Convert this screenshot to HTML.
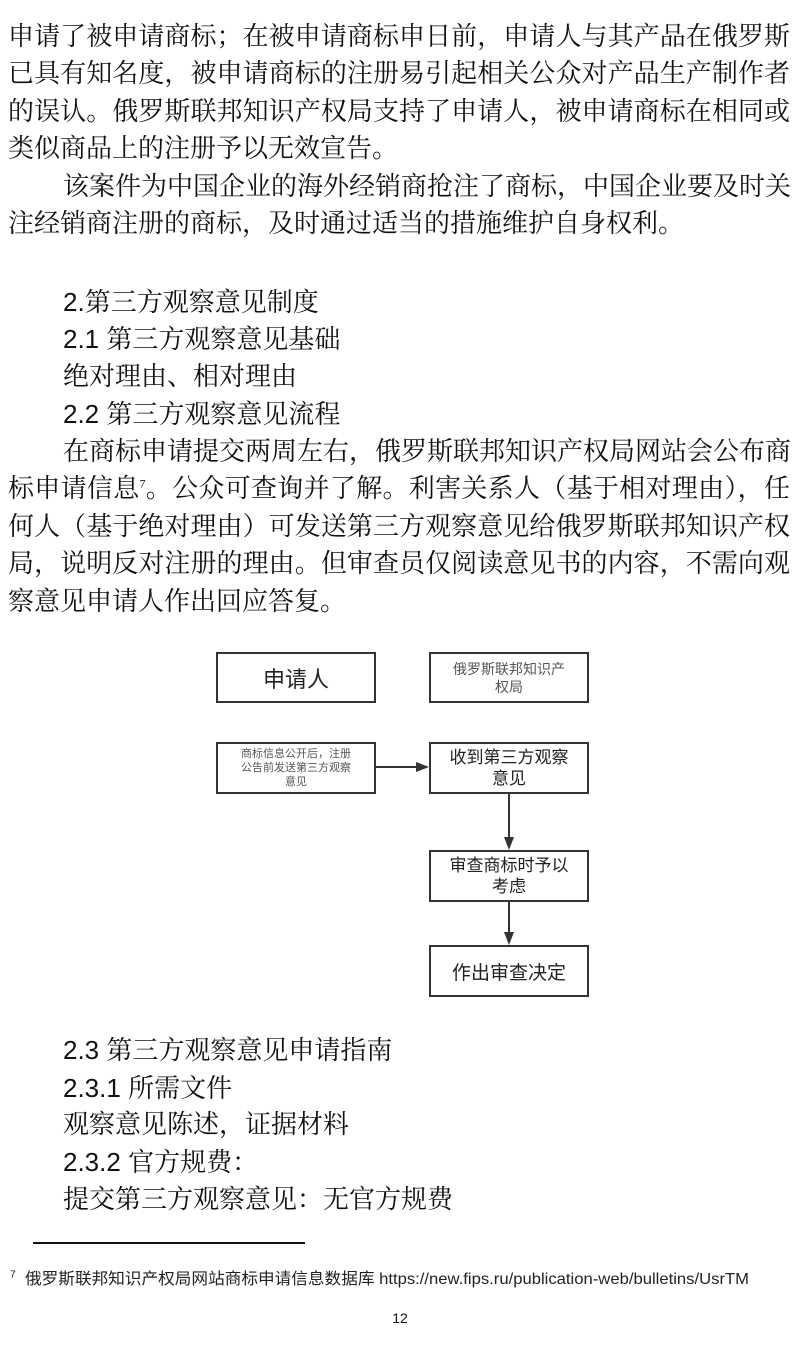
<!DOCTYPE html>
<html><head><meta charset="utf-8"><style>
body{margin:0;background:#fff;}
#p{position:relative;width:800px;height:1345px;overflow:hidden;background:#fff;color:#111;font-family:"Liberation Serif","Noto Serif CJK SC",serif;}
.l{position:absolute;height:38px;line-height:38px;font-size:26px;white-space:nowrap;}
.f{left:8px;width:782px;text-align:justify;text-align-last:justify;}
.i{left:63px;}
.fi{left:63px;width:727px;text-align:justify;text-align-last:justify;}
.s{font-family:"Liberation Sans","Noto Sans CJK SC",sans-serif;}
.b{position:absolute;border:2px solid #333;box-sizing:border-box;display:flex;align-items:center;justify-content:center;text-align:center;font-family:"Liberation Sans","Noto Sans CJK SC",sans-serif;color:#222;}
sup{font-size:12px;line-height:0;}
</style></head><body><div id="p">
<div class="l f" style="top:18px">申请了被申请商标；在被申请商标申日前，申请人与其产品在俄罗斯</div>
<div class="l f" style="top:55px">已具有知名度，被申请商标的注册易引起相关公众对产品生产制作者</div>
<div class="l f" style="top:93px">的误认。俄罗斯联邦知识产权局支持了申请人，被申请商标在相同或</div>
<div class="l" style="top:130px;left:8px">类似商品上的注册予以无效宣告。</div>
<div class="l fi" style="top:168px">该案件为中国企业的海外经销商抢注了商标，中国企业要及时关</div>
<div class="l" style="top:205px;left:8px">注经销商注册的商标，及时通过适当的措施维护自身权利。</div>

<div class="l i" style="top:283px"><span class="s">2.</span>第三方观察意见制度</div>
<div class="l i" style="top:320px"><span class="s">2.1 </span>第三方观察意见基础</div>
<div class="l i" style="top:358px">绝对理由、相对理由</div>
<div class="l i" style="top:395px"><span class="s">2.2 </span>第三方观察意见流程</div>
<div class="l fi" style="top:433px">在商标申请提交两周左右，俄罗斯联邦知识产权局网站会公布商</div>
<div class="l f" style="top:470px">标申请信息<sup>7</sup>。公众可查询并了解。利害关系人（基于相对理由），任</div>
<div class="l f" style="top:508px">何人（基于绝对理由）可发送第三方观察意见给俄罗斯联邦知识产权</div>
<div class="l f" style="top:545px">局，说明反对注册的理由。但审查员仅阅读意见书的内容，不需向观</div>
<div class="l" style="top:583px;left:8px">察意见申请人作出回应答复。</div>

<div class="b" style="left:216px;top:652px;width:160px;height:51px;font-size:22px">申请人</div>
<div class="b" style="left:429px;top:652px;width:160px;height:51px;font-size:14px;line-height:18px;color:#555">俄罗斯联邦知识产<br>权局</div>
<div class="b" style="left:216px;top:742px;width:160px;height:52px;font-size:11px;line-height:14px;color:#555">商标信息公开后，注册<br>公告前发送第三方观察<br>意见</div>
<div class="b" style="left:429px;top:742px;width:160px;height:52px;font-size:17px;line-height:21px">收到第三方观察<br>意见</div>
<div class="b" style="left:429px;top:850px;width:160px;height:52px;font-size:17px;line-height:21px">审查商标时予以<br>考虑</div>
<div class="b" style="left:429px;top:945px;width:160px;height:52px;font-size:19px">作出审查决定</div>
<svg style="position:absolute;left:0;top:0" width="800" height="1345">
<g stroke="#333" stroke-width="2" fill="#333">
<line x1="376" y1="767" x2="418" y2="767"/><polygon points="429,767 416,762 416,772" stroke="none"/>
<line x1="509" y1="794" x2="509" y2="838"/><polygon points="509,850 504,837 514,837" stroke="none"/>
<line x1="509" y1="902" x2="509" y2="933"/><polygon points="509,945 504,932 514,932" stroke="none"/>
</g>
<line x1="33" y1="1243" x2="305" y2="1243" stroke="#111" stroke-width="2"/>
</svg>

<div class="l i" style="top:1031px"><span class="s">2.3 </span>第三方观察意见申请指南</div>
<div class="l i" style="top:1069px"><span class="s">2.3.1 </span>所需文件</div>
<div class="l i" style="top:1106px">观察意见陈述，证据材料</div>
<div class="l i" style="top:1143px"><span class="s">2.3.2 </span>官方规费：</div>
<div class="l i" style="top:1181px">提交第三方观察意见：无官方规费</div>

<div style="position:absolute;left:10px;top:1269px;font-size:16px;line-height:22px;white-space:nowrap;font-family:'Liberation Sans','Noto Sans CJK SC',sans-serif;color:#222;transform-origin:0 0;transform:scaleX(1.04)"><sup style="font-size:10px">7</sup>&nbsp; 俄罗斯联邦知识产权局网站商标申请信息数据库 https://new.fips.ru/publication-web/bulletins/UsrTM</div>
<div style="position:absolute;left:389px;top:1309px;width:22px;text-align:center;font-size:14px;line-height:18px;font-family:'Liberation Sans',sans-serif">12</div>
</div></body></html>
